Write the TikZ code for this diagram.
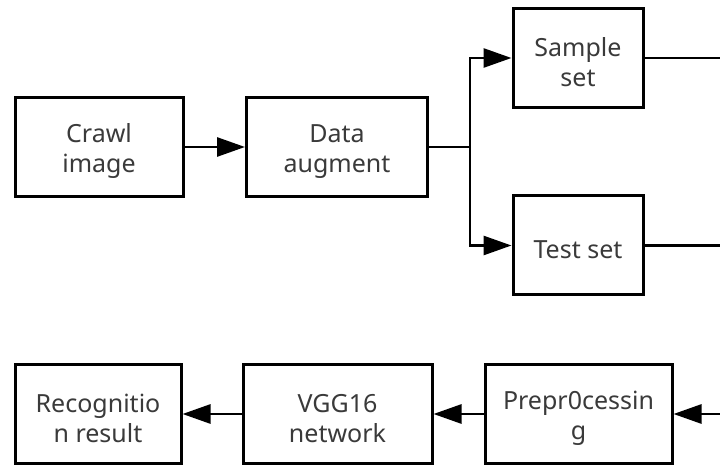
\documentclass[tikz,border=0pt]{standalone}
\usepackage{fontspec}
\setmainfont{Noto Sans}
\usetikzlibrary{arrows.meta}
\definecolor{txt}{HTML}{3A3A3A}
% extra room above the first line, to lower the text a little in its box
\newcommand\topgap{\rule{0pt}{27pt}}
\tikzset{
  stepbox/.style={draw=black, line width=3pt, fill=white, align=center,
    inner sep=0pt, minimum height=99pt, text=txt,
    font=\fontsize{25}{29.5}\selectfont},
  link/.style={line width=2.8pt, draw=black},
  flow/.style={link, -{Triangle[length=28pt,width=19pt]}},
}
\begin{document}
\begin{tikzpicture}[x=1pt,y=1pt]
\useasboundingbox (0,0) rectangle (720,466);
% top row
\node[stepbox, minimum width=168pt] (crawl) at (99,319) {\topgap Crawl\\image};
\node[stepbox, minimum width=181pt] (aug) at (337,319) {\topgap Data\\augment};
\node[stepbox, minimum width=130pt] (sample) at (578,408) {\topgap Sample\\set};
\node[stepbox, minimum width=130pt] (test) at (578,220.5) {\topgap Test set};
\coordinate (split) at (470,319);
\coordinate (outS) at (721,408);
\coordinate (outT) at (721,220.5);
% bottom row
\node[stepbox, minimum width=166pt] (recog) at (98,52) {\topgap Recognitio\\n result};
\node[stepbox, minimum width=189pt] (vgg) at (337.5,52) {\topgap VGG16\\network};
\node[stepbox, minimum width=187pt] (prep) at (578.5,52) {\topgap Prepr0cessin\\g};
\coordinate (inP) at (721,52);
% connectors
\draw[flow] (crawl) -- (aug);
\draw[link] (aug.east) -- (split);
\draw[flow] (split) |- (sample.west);
\draw[flow] (split) |- (test.west);
\draw[link] (sample.east) -- (outS);
\draw[link] (test.east) -- (outT);
\draw[flow] (inP) -- (prep.east);
\draw[flow] (prep) -- (vgg);
\draw[flow] (vgg) -- (recog);
\end{tikzpicture}
\end{document}
